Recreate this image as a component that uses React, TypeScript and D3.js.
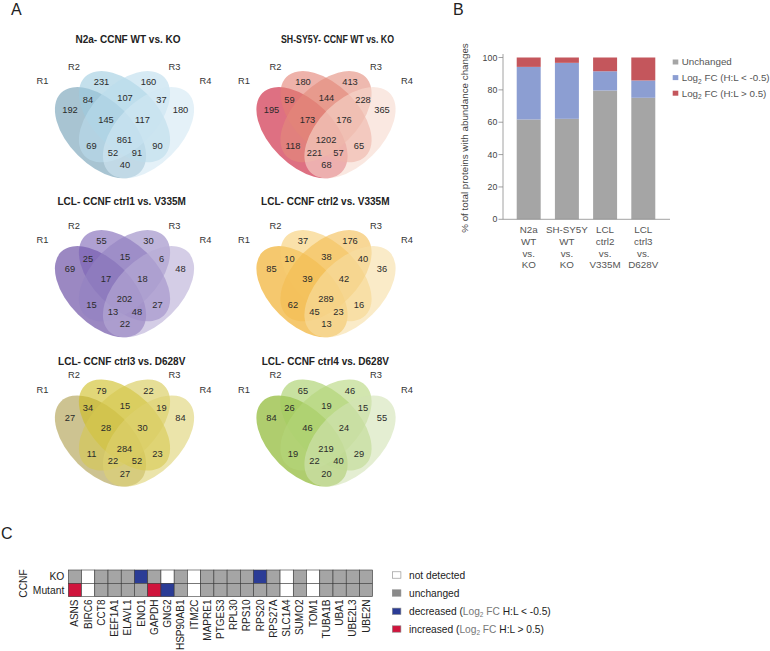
import React from 'react';
import * as d3 from 'd3';

const FONT = "'Liberation Sans', Arial, Helvetica, sans-serif";

// ---------- Panel A data ----------
const regionKeys = ['R1', 'R2', 'R3', 'R4', 'R1R2', 'R2R3', 'R3R4', 'R1R2R3', 'R2R3R4', 'R1R3', 'R1R2R3R4', 'R2R4', 'R1R3R4', 'R1R2R4', 'R1R4'];
const setNames = ['R1', 'R2', 'R3', 'R4'];
const vennTitles = [
  'N2a- CCNF WT vs. KO',
  'SH-SY5Y- CCNF WT vs. KO',
  'LCL- CCNF ctrl1 vs. V335M',
  'LCL- CCNF ctrl2 vs. V335M',
  'LCL- CCNF ctrl3 vs. D628V',
  'LCL- CCNF ctrl4 vs. D628V',
];
const vennN2a = [192, 231, 160, 180, 84, 107, 37, 145, 117, 69, 861, 90, 52, 91, 40];
const vennSHSY5Y = [195, 180, 413, 365, 59, 144, 228, 173, 176, 118, 1202, 65, 221, 57, 68];
const vennCtrl1 = [69, 55, 30, 48, 25, 15, 6, 17, 18, 15, 202, 27, 13, 48, 22];
const vennCtrl2 = [85, 37, 176, 36, 10, 38, 40, 39, 42, 62, 289, 16, 45, 23, 13];
const vennCtrl3 = [27, 79, 22, 84, 34, 15, 19, 28, 30, 11, 284, 23, 22, 52, 27];
const vennCtrl4 = [84, 65, 46, 55, 26, 19, 15, 46, 24, 19, 219, 29, 22, 40, 20];
const vennValues = [vennN2a, vennSHSY5Y, vennCtrl1, vennCtrl2, vennCtrl3, vennCtrl4];

const vennColors = [
  ['#6e9db4', '#9dcbdf', '#bbdced', '#d2e8f3'],
  ['#c8102e', '#e37f71', '#e38a7a', '#f7d9cd'],
  ['#58389a', '#7a61b4', '#9382c1', '#b7acd5'],
  ['#eea30d', '#f7cd71', '#f3bc50', '#f7dea3'],
  ['#ac9b48', '#cdbc1e', '#d5c850', '#ded271'],
  ['#7aac0d', '#a3cd61', '#b4d57a', '#d2e3b4'],
];

// ---------- Panel B data ----------
const barCategories = ['N2a WT vs. KO', 'SH-SY5Y WT vs. KO', 'LCL ctrl2 vs. V335M', 'LCL ctrl3 vs. D628V'];
const barLabelLines = [
  ['N2a', 'WT', 'vs.', 'KO'],
  ['SH-SY5Y', 'WT', 'vs.', 'KO'],
  ['LCL', 'ctrl2', 'vs.', 'V335M'],
  ['LCL', 'ctrl3', 'vs.', 'D628V'],
];
const unchanged = [61.7, 62.1, 79.6, 75.1];
const decreased = [32.5, 34.6, 11.9, 10.7];
const increased = [5.8, 3.3, 8.5, 14.2];
const yTicks = [0, 20, 40, 60, 80, 100];
const seriesKeys = ['unchanged', 'decreased', 'increased'];
const seriesColors = ['#a5a5a5', '#8c9ed2', '#c4565c'];

// ---------- Panel C data ----------
const genes = ['ASNS', 'BIRC6', 'CCT8', 'EEF1A1', 'ELAVL1', 'ENO1', 'GAPDH', 'GNG2', 'HSP90AB1', 'ITM2C', 'MAPRE1', 'PTGES3', 'RPL30', 'RPS10', 'RPS20', 'RPS27A', 'SLC1A4', 'SUMO2', 'TOM1', 'TUBA1B', 'UBA1', 'UBE2L3', 'UBE2N'];
const heatRows = ['KO', 'Mutant'];
const koStatus = ['u', 'n', 'u', 'u', 'u', 'd', 'u', 'n', 'u', 'n', 'u', 'u', 'u', 'u', 'd', 'u', 'n', 'u', 'n', 'u', 'u', 'u', 'u'];
const mutantStatus = ['i', 'n', 'u', 'u', 'u', 'u', 'i', 'd', 'u', 'n', 'u', 'u', 'u', 'u', 'u', 'u', 'n', 'u', 'n', 'u', 'u', 'u', 'u'];
const statusKeys = ['n', 'u', 'd', 'i'];
const statusColors = ['#ffffff', '#a5a5a5', '#2b3c96', '#d0143c'];
const legendColorsC = ['#ffffff', '#8a8a8a', '#2b3c96', '#d0143c'];

// ---------- Layout (positions, not data) ----------
const vennCols = [124.5, 326];
const vennRows = [66.7, 225.7, 375];
const titlePos = [[128, 43, 10], [337.5, 43.3, 10], [121.7, 205.3, 10], [325.3, 205.3, 10], [121.7, 365.3, 10], [325.3, 365.3, 10]];
const titleLen = [0, 113, 0, 0, 0, 0];
const regionOffsets: Record<string, [number, number]> = {
  R1: [-54.5, 42.6], R2: [-23, 15.5], R3: [24, 15.5], R4: [56, 42.6],
  R1R2: [-36.5, 32.6], R2R3: [0.5, 30.6], R3R4: [37, 32.6],
  R1R2R3: [-18.5, 52.6], R2R3R4: [18, 52.6],
  R1R3: [-33, 79], R1R2R3R4: [0, 73.3], R2R4: [33, 79],
  R1R3R4: [-11.5, 86], R1R2R4: [12.5, 86], R1R4: [0.5, 98.3],
};
const setLabelOffsets = [[-82, 14.3], [-50.5, 0], [50, 0], [81, 14.3]];
const ellipseDefs = [
  { x: 0.35, y: 0.47, rot: 45 },
  { x: 0.5, y: 0.57, rot: 45 },
  { x: 0.5, y: 0.57, rot: -45 },
  { x: 0.65, y: 0.47, rot: -45 },
];
const EA = 0.35, EB = 0.2, S = 160;

function Venn({ idx }: { idx: number }) {
  const cx = vennCols[idx % 2];
  const baseY = vennRows[Math.floor(idx / 2)];
  const xs = d3.scaleLinear().domain([0, 1]).range([cx - 0.5 * S, cx + 0.5 * S]);
  const ys = d3.scaleLinear().domain([0.47, 1.47]).range([baseY + 66, baseY + 66 - S]);
  const vals = vennValues[idx];
  const cols = vennColors[idx];
  const [tx, ty, tfs] = titlePos[idx];
  const tl = titleLen[idx];
  return (
    <g>
      <text x={tx} y={ty} textAnchor="middle" fontWeight="bold" fontSize={tfs} fill="#222"
        {...(tl ? { textLength: tl, lengthAdjust: 'spacingAndGlyphs' } : {})}>{vennTitles[idx]}</text>
      {ellipseDefs.map((e, i) => {
        const ex = xs(e.x), ey = ys(e.y);
        return (
          <ellipse key={i} cx={ex} cy={ey} rx={EA * S} ry={EB * S}
            transform={`rotate(${e.rot} ${ex} ${ey})`} fill={cols[i]} fillOpacity={0.6} />
        );
      })}
      {setNames.map((n, i) => (
        <text key={n} x={cx + setLabelOffsets[i][0]} y={baseY + setLabelOffsets[i][1]} dy="0.35em"
          textAnchor="middle" fontSize={9.3} fill="#333">{n}</text>
      ))}
      {regionKeys.map((k, i) => (
        <text key={k} x={cx + regionOffsets[k][0]} y={baseY + regionOffsets[k][1]} dy="0.35em"
          textAnchor="middle" fontSize={9.3} fill="#2a2a2a">{vals[i]}</text>
      ))}
    </g>
  );
}

function BarChart() {
  const x = d3.scaleBand().domain(barCategories).range([503, 669]).paddingInner(0.372).paddingOuter(0.359);
  const y = d3.scaleLinear().domain([0, 100]).range([219.3, 57.5]);
  const rows = barCategories.map((c, i) => ({ cat: c, unchanged: unchanged[i], decreased: decreased[i], increased: increased[i] }));
  const stacked = d3.stack<any>().keys(seriesKeys)(rows);
  const legendLabels = [
    <tspan key="a">Unchanged</tspan>,
    <tspan key="b">Log<tspan fontSize={6.5} dy={2.5}>2</tspan><tspan dy={-2.5}> FC (H:L &lt; -0.5)</tspan></tspan>,
    <tspan key="c">Log<tspan fontSize={6.5} dy={2.5}>2</tspan><tspan dy={-2.5}> FC (H:L &gt; 0.5)</tspan></tspan>,
  ];
  const legendOrder = [0, 1, 2];
  return (
    <g>
      {stacked.map((s, si) => (
        <g key={si} fill={seriesColors[si]}>
          {s.map((d, di) => (
            <rect key={di} x={x(barCategories[di])} width={x.bandwidth()} y={y(d[1])} height={y(d[0]) - y(d[1])} />
          ))}
        </g>
      ))}
      <line x1={503} x2={503} y1={54} y2={219.3} stroke="#8a8a8a" strokeWidth={0.8} />
      <line x1={503} x2={670} y1={219.3} y2={219.3} stroke="#8a8a8a" strokeWidth={0.8} />
      {yTicks.map(t => (
        <g key={t}>
          <line x1={498.5} x2={503} y1={y(t)} y2={y(t)} stroke="#8a8a8a" strokeWidth={0.8} />
          <text x={497.3} y={y(t)} dy="0.35em" textAnchor="end" fontSize={8.8} fill="#444">{t}</text>
        </g>
      ))}
      <text transform="translate(465,138) rotate(-90)" textAnchor="middle" dy="0.35em" fontSize={9.8} fill="#444">
        % of total proteins with abundance changes
      </text>
      {barLabelLines.map((lines, i) => (
        <text key={i} textAnchor="middle" fontSize={9.8} fill="#555">
          {lines.map((l, j) => (
            <tspan key={j} x={(x(barCategories[i]) as number) + x.bandwidth() / 2} y={229.3 + j * 11.9} dy="0.35em">{l}</tspan>
          ))}
        </text>
      ))}
      {legendOrder.map((k, i) => (
        <g key={k}>
          <rect x={672.7} y={59.5 + i * 15.6} width={5.6} height={5} fill={seriesColors[k]} />
          <text x={681.7} y={62 + i * 15.6} dy="0.35em" fontSize={9.8} fill="#555">{legendLabels[k]}</text>
        </g>
      ))}
    </g>
  );
}

function Heatmap() {
  const x = d3.scaleBand().domain(genes).range([68.3, 372.7]);
  const y = d3.scaleBand().domain(heatRows).range([570, 596.7]);
  const color = d3.scaleOrdinal<string, string>().domain(statusKeys).range(statusColors);
  const data = [koStatus, mutantStatus];
  const legendText = [
    <tspan key="a">not detected</tspan>,
    <tspan key="b">unchanged</tspan>,
    <tspan key="c">decreased (<tspan fill="#777">Log<tspan fontSize={6.5} dy={2.5}>2</tspan><tspan dy={-2.5}> FC</tspan></tspan> H:L &lt; -0.5)</tspan>,
    <tspan key="d">increased (<tspan fill="#777">Log<tspan fontSize={6.5} dy={2.5}>2</tspan><tspan dy={-2.5}> FC</tspan></tspan> H:L &gt; 0.5)</tspan>,
  ];
  const legendY = [575, 593, 611.3, 629];
  return (
    <g>
      {data.map((row, ri) => row.map((s, gi) => (
        <rect key={ri + '-' + gi} x={x(genes[gi])} y={y(heatRows[ri])} width={x.bandwidth()} height={y.bandwidth()}
          fill={color(s)} stroke="#3a3a3a" strokeWidth={0.6} />
      )))}
      {heatRows.map(r => (
        <text key={r} x={64.3} y={(y(r) as number) + y.bandwidth() / 2} dy="0.35em" textAnchor="end" fontSize={10.3} fill="#222">{r}</text>
      ))}
      <text transform="translate(23,583.5) rotate(-90)" textAnchor="middle" dy="0.35em" fontSize={10.3} fill="#222">CCNF</text>
      {genes.map(g => (
        <text key={g} transform={`translate(${(x(g) as number) + x.bandwidth() / 2},599.5) rotate(-90)`} dy="0.35em"
          textAnchor="end" fontSize={10} fill="#222">{g}</text>
      ))}
      {statusKeys.map((k, i) => (
        <g key={k}>
          <rect x={392.3} y={legendY[i] - 3.2} width={8.6} height={6.4} fill={legendColorsC[i]} stroke="#888" strokeWidth={0.6} />
          <text x={409} y={legendY[i]} dy="0.35em" fontSize={10.2} fill="#222">{legendText[i]}</text>
        </g>
      ))}
    </g>
  );
}

export default function App() {
  return (
    <svg width={770} height={651} style={{ position: 'absolute', left: 0, top: 0, background: '#fff' }} fontFamily={FONT}>
      <rect width={770} height={651} fill="#fff" />
      <text x={11} y={15} fontSize={16} fill="#222">A</text>
      <text x={453} y={15} fontSize={16} fill="#222">B</text>
      <text x={1} y={539} fontSize={16} fill="#222">C</text>
      {vennTitles.map((t, i) => <Venn key={t} idx={i} />)}
      <BarChart />
      <Heatmap />
    </svg>
  );
}
